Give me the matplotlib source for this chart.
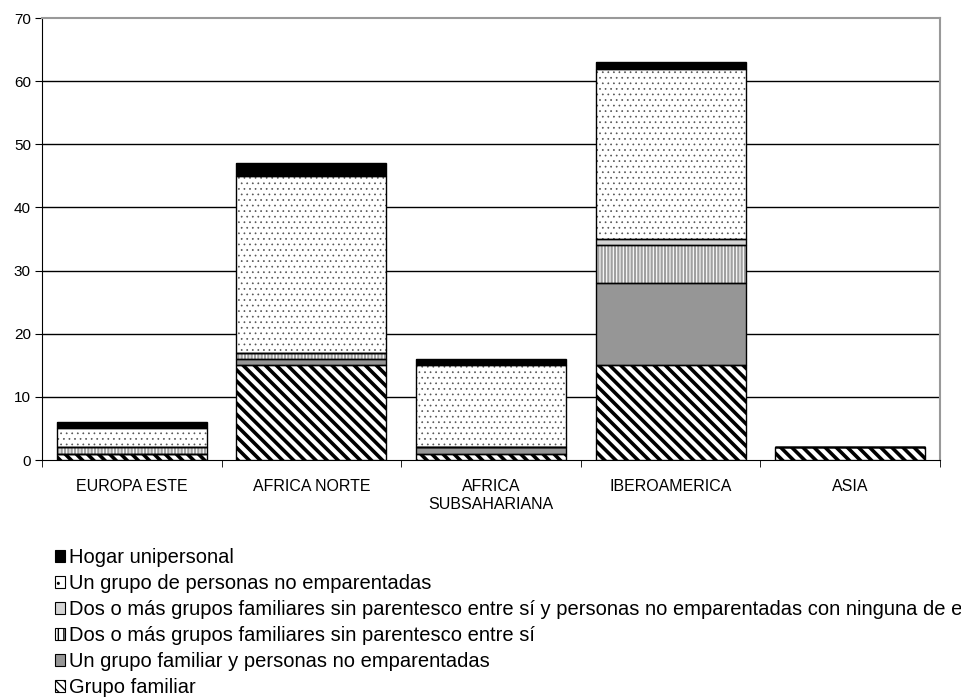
import numpy as np
import matplotlib
matplotlib.use("Agg")
import matplotlib.pyplot as plt
from matplotlib.patches import Patch

plt.rcParams['font.family'] = ['Liberation Sans', 'DejaVu Sans']

regions = ['EUROPA ESTE', 'AFRICA NORTE', 'AFRICA\nSUBSAHARIANA', 'IBEROAMERICA', 'ASIA']

# stacked from bottom to top
grupo_familiar = [1, 15, 1, 15, 2]
familiar_y_personas = [0, 1, 1, 13, 0]
dos_grupos = [1, 1, 0, 6, 0]
dos_grupos_y_personas = [0, 0, 0, 1, 0]
no_emparentadas = [3, 28, 13, 27, 0]
unipersonal = [1, 2, 1, 1, 0]

series = [
    ('Grupo familiar', grupo_familiar),
    ('Un grupo familiar y personas no emparentadas', familiar_y_personas),
    ('Dos o más grupos familiares sin parentesco entre sí', dos_grupos),
    ('Dos o más grupos familiares sin parentesco entre sí y personas no emparentadas con ninguna de ellos',
     dos_grupos_y_personas),
    ('Un grupo de personas no emparentadas', no_emparentadas),
    ('Hogar unipersonal', unipersonal),
]

# face, hatch, hatch colour, hatch line width, legend hatch
styles = [
    ('white', '\\\\\\', 'black', 2.6, '\\\\\\\\'),
    ('#969696', None, 'black', 1.0, None),
    ('white', '|||||', '#a0a0a0', 1.6, '|||'),
    ('#d4d4d4', None, 'black', 1.0, None),
    ('white', '...', '#555555', 0.5, '..'),
    ('black', None, 'black', 1.0, None),
]

fig = plt.figure(figsize=(9.61, 6.98), dpi=100)
ax = fig.add_axes([42 / 961, 1 - 460 / 698, 898 / 961, 442 / 698])

x = np.arange(len(regions))
width = 0.835
bottom = np.zeros(len(regions))
handles = []
for (label, vals), (face, hatch, hcol, hlw, lhatch) in zip(series, styles):
    vals = np.array(vals, dtype=float)
    with plt.rc_context({'hatch.linewidth': hlw, 'hatch.color': hcol}):
        ax.bar(x, vals, width, bottom=bottom, color=face, hatch=hatch,
               edgecolor=hcol, linewidth=0, zorder=3)
    with plt.rc_context({'hatch.linewidth': 1.0}):
        handles.append(Patch(facecolor=face, hatch=lhatch, edgecolor='black',
                             linewidth=0.8, label=label))
    ax.bar(x, vals, width, bottom=bottom, fill=False, edgecolor='black',
           linewidth=1.0, zorder=4)
    bottom += vals

ax.set_xlim(-0.5, len(regions) - 0.5)
ax.set_ylim(0, 70)
ax.set_yticks(np.arange(0, 71, 10))
ax.set_xticks(x)
ax.set_xticklabels(regions, fontsize=11.5)
ax.set_xticks(np.arange(-0.5, len(regions), 1), minor=True)
ax.tick_params(axis='x', which='major', length=0, pad=14)
ax.tick_params(axis='x', which='minor', length=5, direction='out', color='black')
ax.tick_params(axis='y', length=5, direction='out', labelsize=11, pad=3)
for v in range(10, 70, 10):
    ax.axhline(v, color='black', linewidth=1.0, zorder=1)

ax.spines['top'].set_color('#999999')
ax.spines['right'].set_color('#999999')
ax.spines['top'].set_linewidth(1.5)
ax.spines['right'].set_linewidth(1.5)
ax.spines['left'].set_color('black')
ax.spines['bottom'].set_color('black')

leg = fig.legend(handles[::-1], [s[0] for s in series][::-1],
                 loc='upper left', bbox_to_anchor=(55 / 961, 1 - 548 / 698),
                 frameon=False, fontsize=14.5, handlelength=0.5,
                 handleheight=0.5, handletextpad=0.2, labelspacing=0.35,
                 borderpad=0, borderaxespad=0)

fig.savefig('out.png', dpi=100)
